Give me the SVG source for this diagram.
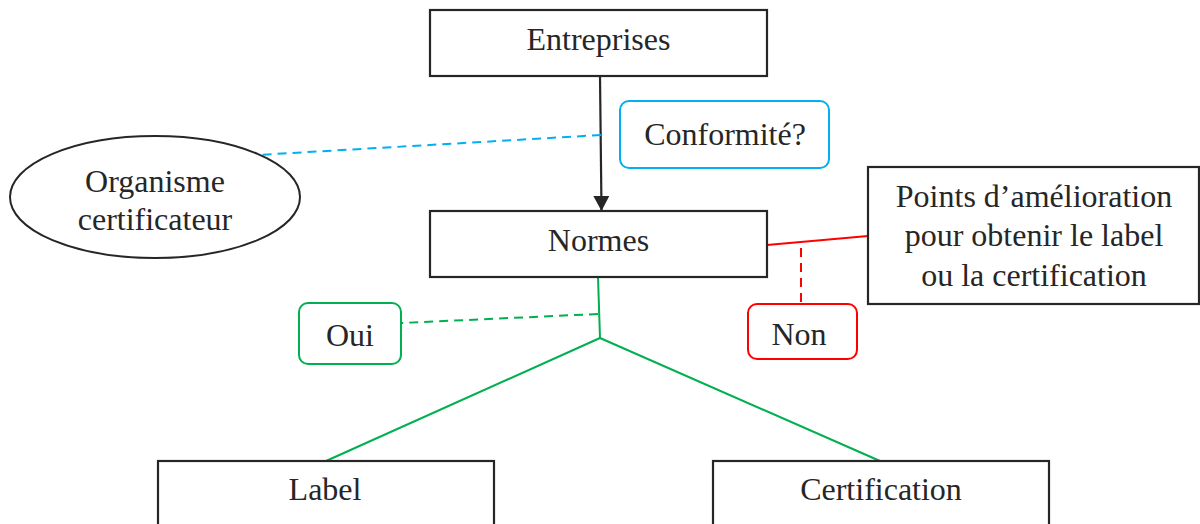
<svg xmlns="http://www.w3.org/2000/svg" width="1200" height="524" viewBox="0 0 1200 524">
<style>
.box{fill:#fff;stroke:#262626;stroke-width:2.2}
.t{font-family:"Liberation Serif","Times New Roman",serif;font-size:32px;fill:#262626;text-anchor:middle}
.blue{stroke:#00b0f0;stroke-width:2;fill:none}
.green{stroke:#00b050;stroke-width:2;fill:none}
.red{stroke:#ff0000;stroke-width:2;fill:none}
.dash{stroke-dasharray:9 6}
</style>
<defs>
<marker id="arr" markerWidth="18" markerHeight="18" refX="15" refY="8" orient="auto" markerUnits="userSpaceOnUse">
<path d="M0,0 L15,8 L0,16 Z" fill="#262626"/>
</marker>
</defs>
<g id="connectors">
<line x1="600" y1="76" x2="601.5" y2="211" stroke="#262626" stroke-width="2.2" marker-end="url(#arr)"/>
<line class="blue dash" x1="601" y1="135" x2="258" y2="155"/>
<line class="red" x1="767" y1="245" x2="868" y2="236"/>
<line class="red dash" x1="801" y1="248" x2="801" y2="304"/>
<polyline class="green" points="598,277 600,338"/>
<line class="green dash" x1="598" y1="314" x2="401" y2="323"/>
<line class="green" x1="600" y1="338" x2="326" y2="461"/>
<line class="green" x1="600" y1="338" x2="880" y2="461"/>
</g>
<g id="entreprises">
<rect class="box" x="430" y="10" width="337" height="66"/>
<text class="t" x="598.5" y="50">Entreprises</text>
</g>
<g id="conformite">
<rect x="620" y="101" width="209" height="67" rx="9" fill="#fff" stroke="#00b0f0" stroke-width="2"/>
<text class="t" x="725" y="145">Conformité?</text>
</g>
<g id="organisme">
<ellipse cx="155" cy="197" rx="145" ry="61" fill="#fff" stroke="#262626" stroke-width="2"/>
<text class="t" x="155" y="192">Organisme</text>
<text class="t" x="155" y="230">certificateur</text>
</g>
<g id="normes">
<rect class="box" x="430" y="211" width="337" height="66"/>
<text class="t" x="598.5" y="251">Normes</text>
</g>
<g id="points">
<rect class="box" x="868" y="167" width="331" height="137"/>
<text class="t" x="1034" y="207">Points d’amélioration</text>
<text class="t" x="1034" y="246">pour obtenir le label</text>
<text class="t" x="1034" y="286">ou la certification</text>
</g>
<g id="non">
<rect x="748" y="304" width="109" height="55" rx="9" fill="#fff" stroke="#ff0000" stroke-width="2"/>
<text class="t" x="799" y="345">Non</text>
</g>
<g id="oui">
<rect x="299" y="303" width="102" height="61" rx="9" fill="#fff" stroke="#00b050" stroke-width="2"/>
<text class="t" x="350" y="346">Oui</text>
</g>
<g id="label">
<rect class="box" x="158" y="461" width="336" height="80"/>
<text class="t" x="325" y="500">Label</text>
</g>
<g id="certification">
<rect class="box" x="713" y="461" width="336" height="80"/>
<text class="t" x="881" y="500">Certification</text>
</g>
</svg>
